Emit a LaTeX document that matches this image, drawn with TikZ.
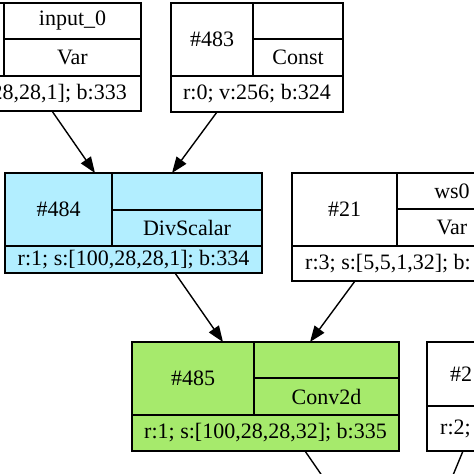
\documentclass[tikz,border=0pt]{standalone}
\usepackage{fontspec}
\setmainfont{Liberation Serif}
\usetikzlibrary{arrows.meta}
\definecolor{cyanfill}{RGB}{178,238,255}
\definecolor{greenfill}{RGB}{166,234,108}
\begin{document}
\begin{tikzpicture}[x=1pt,y=-1pt,
  rec/.style={draw=black,line width=1.5pt,inner sep=0pt,outer sep=0pt,anchor=north west},
  sep/.style={draw=black,line width=1.5pt},
  lbl/.style={font=\fontsize{22}{26}\selectfont,inner sep=0pt},
  edge/.style={draw=black,line width=1.4pt,-{Triangle[length=16pt,width=12pt]}},
  tailedge/.style={draw=black,line width=1.4pt}]
\useasboundingbox (0,0) rectangle (474,474);
\clip (0,0) rectangle (474,474);
\fill[white] (0,0) rectangle (474,474);
% boxes
\node[rec,minimum width=261pt,minimum height=108pt] (A) at (-120,3) {};
\node[rec,minimum width=172pt,minimum height=109pt] (B) at (171,3) {};
\node[rec,fill=cyanfill,minimum width=257pt,minimum height=100pt] (C) at (5,173) {};
\node[rec,minimum width=215pt,minimum height=108pt] (D) at (292,173) {};
\node[rec,minimum width=100pt,minimum height=109pt] (E) at (427,342) {};
\node[rec,fill=greenfill,minimum width=267pt,minimum height=109pt] (F) at (132,342) {};
% internal lines
\draw[sep] (4,3)--(4,76) (4,39)--(141,39) (-120,76)--(141,76);
\draw[sep] (253,3)--(253,76) (253,39)--(343,39) (171,76)--(343,76);
\draw[sep] (112,173)--(112,246) (112,210)--(262,210) (5,246)--(262,246);
\draw[sep] (397,173)--(397,246) (397,209)--(507,209) (292,246)--(507,246);
\draw[sep] (427,406)--(527,406);
\draw[sep] (254,342)--(254,415) (254,378)--(399,378) (132,415)--(399,415);
% texts
\node[lbl] (a1) at (72.5,21) {input\_0};
\node[lbl] (a2) at (72.5,57.5) {Var};
\node[lbl,anchor=east] (a3) at (127,93.5) {28,28,1]; b:333};
\node[lbl] (b1) at (212,39.5) {\#483};
\node[lbl] (b2) at (298,57.5) {Const};
\node[lbl] (b3) at (257,94) {r:0; v:256; b:324};
\node[lbl] (c1) at (58.5,209.5) {\#484};
\node[lbl] (c2) at (187,228) {DivScalar};
\node[lbl] (c3) at (133.5,259.5) {r:1; s:[100,28,28,1]; b:334};
\node[lbl] (d1) at (344.5,209.5) {\#21};
\node[lbl] (d2) at (452,191) {ws0};
\node[lbl] (d3) at (452,227.5) {Var};
\node[lbl,anchor=west] (d4) at (305,263.5) {r:3; s:[5,5,1,32]; b:};
\node[lbl,anchor=west] (e1) at (450,374) {\#2};
\node[lbl,anchor=west] (e2) at (440,428.5) {r:2;};
\node[lbl] (f1) at (193,378.5) {\#485};
\node[lbl] (f2) at (326.5,396.5) {Conv2d};
\node[lbl] (f3) at (265.5,433) {r:1; s:[100,28,28,32]; b:335};
% ports
\coordinate (Ap) at ([xshift=172pt]A.south west);
\coordinate (Bp) at ([xshift=46pt]B.south west);
\coordinate (Cin1) at ([xshift=90pt]C.north west);
\coordinate (Cin2) at ([xshift=167pt]C.north west);
\coordinate (Cp) at ([xshift=170pt]C.south west);
\coordinate (Dp) at ([xshift=63pt]D.south west);
\coordinate (Fin1) at ([xshift=91pt]F.north west);
\coordinate (Fin2) at ([xshift=178pt]F.north west);
\coordinate (Fp) at ([xshift=173pt]F.south west);
\coordinate (Ep) at ([xshift=36pt]E.south west);
\coordinate (O1) at (325,480);
\coordinate (O2) at (451,480);
% edges
\draw[edge] (Ap) -- (Cin1);
\draw[edge] (Bp) -- (Cin2);
\draw[edge] (Cp) -- (Fin1);
\draw[edge] (Dp) -- (Fin2);
\draw[tailedge] (Fp) -- (O1);
\draw[tailedge] (Ep) -- (O2);
\end{tikzpicture}
\end{document}
